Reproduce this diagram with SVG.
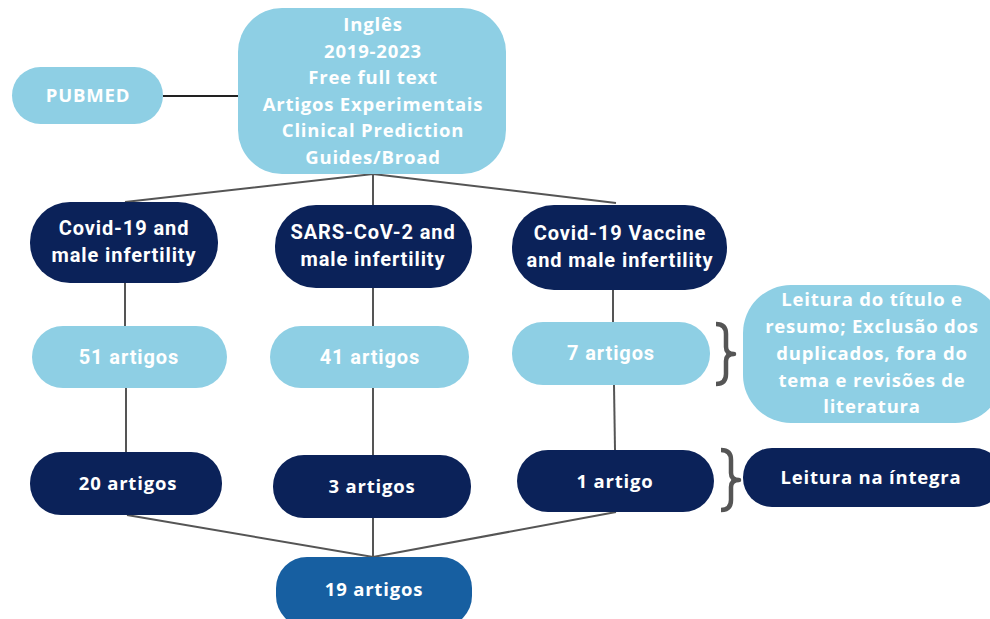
<svg xmlns="http://www.w3.org/2000/svg" width="990" height="619" viewBox="0 0 990 619">
<style>
.light{fill:#8ecfe4}
.dark{fill:#0b2259}
.mid{fill:#175fa1}
.t{font-family:"Open Sans","Liberation Sans",sans-serif;font-weight:700;font-size:18.5px;letter-spacing:0.8px;fill:#ffffff;text-anchor:middle}
.c{font-family:Roboto,"Liberation Sans",sans-serif;font-weight:700;font-size:20px;letter-spacing:0.9px;fill:#ffffff;text-anchor:middle}
.ln{stroke:#555;stroke-width:2;fill:none}
.br{stroke:#555;stroke-width:4.5;fill:none;stroke-linejoin:round;stroke-linecap:butt}
</style>
<rect width="990" height="619" fill="#ffffff"/>
<g id="connectors">
<line class="ln" x1="163" y1="96" x2="238" y2="96" style="stroke:#222"/>
<polyline class="ln" points="125,202 373,174 616,203"/>
<line class="ln" x1="373" y1="174" x2="373" y2="205"/>
<line class="ln" x1="125" y1="283" x2="125" y2="326"/>
<line class="ln" x1="373" y1="288" x2="373" y2="326"/>
<line class="ln" x1="613" y1="290" x2="613" y2="322"/>
<line class="ln" x1="126" y1="388" x2="126" y2="452"/>
<line class="ln" x1="373" y1="388" x2="373" y2="455"/>
<line class="ln" x1="614" y1="385" x2="615" y2="450"/>
<polyline class="ln" points="127,515 373,557 616,512"/>
<line class="ln" x1="373" y1="518" x2="373" y2="557"/>
<path class="br" d="M716,324 Q726,324 726,334 L726,347 Q726,354 734,354 Q726,354 726,361 L726,374 Q726,384 716,384"/>
<path class="br" d="M721,450 Q731,450 731,460 L731,473 Q731,480 739,480 Q731,480 731,487 L731,500 Q731,510 721,510"/>
</g>
<g id="pubmed">
<rect class="light" x="12" y="67" width="151" height="57" rx="28.5"/>
<text class="t" x="88" y="102">PUBMED</text>
</g>
<g id="filters">
<rect class="light" x="238" y="8" width="268" height="166" rx="44"/>
<text class="t" x="373" y="31">Inglês</text>
<text class="t" x="373" y="58">2019-2023</text>
<text class="t" x="373" y="84">Free full text</text>
<text class="t" x="373" y="111">Artigos Experimentais</text>
<text class="t" x="373" y="137">Clinical Prediction</text>
<text class="t" x="373" y="164">Guides/Broad</text>
</g>
<g id="q1">
<rect class="dark" x="30" y="202" width="188" height="81" rx="40"/>
<text class="c" x="124" y="235">Covid-19 and</text>
<text class="c" x="124" y="262">male infertility</text>
</g>
<g id="q2">
<rect class="dark" x="275" y="205" width="197" height="83" rx="41"/>
<text class="c" x="373" y="239">SARS-CoV-2 and</text>
<text class="c" x="373" y="266">male infertility</text>
</g>
<g id="q3">
<rect class="dark" x="512" y="205" width="215" height="85" rx="42"/>
<text class="c" x="620" y="240">Covid-19 Vaccine</text>
<text class="c" x="620" y="267">and male infertility</text>
</g>
<g id="r1">
<rect class="light" x="32" y="326" width="195" height="62" rx="31"/>
<text class="c" x="129" y="364">51 artigos</text>
</g>
<g id="r2">
<rect class="light" x="270" y="326" width="199" height="62" rx="31"/>
<text class="c" x="370" y="364">41 artigos</text>
</g>
<g id="r3">
<rect class="light" x="512" y="322" width="198" height="63" rx="31"/>
<text class="c" x="611" y="360">7 artigos</text>
</g>
<g id="note1">
<rect class="light" x="743" y="285" width="260" height="138" rx="48"/>
<text class="t" x="872" y="306">Leitura do título e</text>
<text class="t" x="872" y="333">resumo; Exclusão dos</text>
<text class="t" x="872" y="360">duplicados, fora do</text>
<text class="t" x="872" y="387">tema e revisões de</text>
<text class="t" x="872" y="413">literatura</text>
</g>
<g id="s1">
<rect class="dark" x="30" y="452" width="192" height="63" rx="31"/>
<text class="t" x="128" y="490">20 artigos</text>
</g>
<g id="s2">
<rect class="dark" x="273" y="455" width="198" height="63" rx="31"/>
<text class="t" x="372" y="493">3 artigos</text>
</g>
<g id="s3">
<rect class="dark" x="517" y="450" width="197" height="62" rx="31"/>
<text class="t" x="615" y="488">1 artigo</text>
</g>
<g id="note2">
<rect class="dark" x="743" y="448" width="260" height="59" rx="29"/>
<text class="t" x="871" y="484">Leitura na íntegra</text>
</g>
<g id="total">
<rect class="mid" x="276" y="557" width="196" height="70" rx="31"/>
<text class="t" x="374" y="596">19 artigos</text>
</g>
</svg>
